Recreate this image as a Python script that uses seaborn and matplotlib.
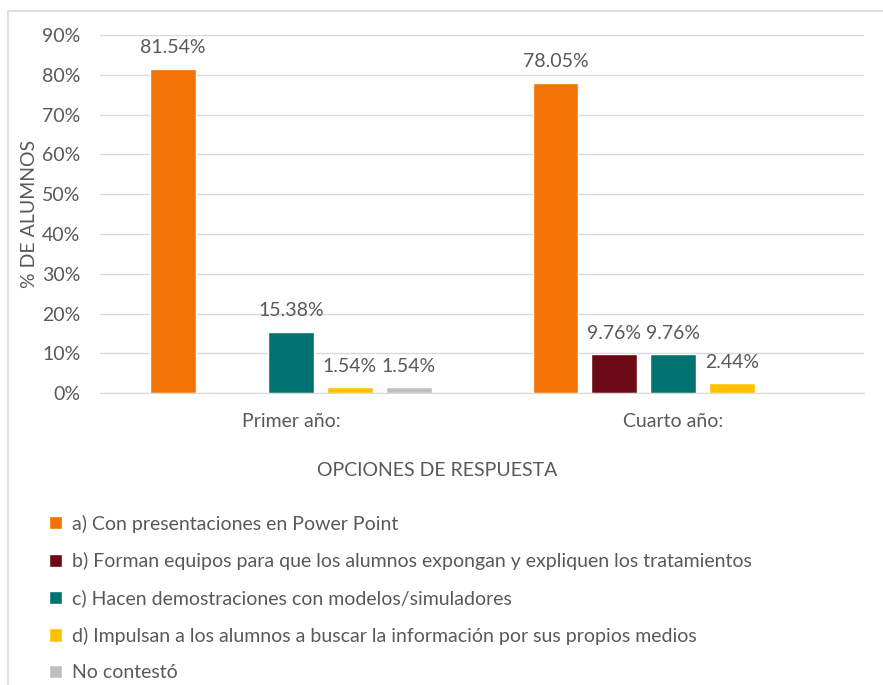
import pandas as pd
import seaborn as sns
import matplotlib.pyplot as plt
from matplotlib.patches import Rectangle
from matplotlib.ticker import FuncFormatter

# data
groups = ['Primer año:', 'Cuarto año:']
options = [
    'a) Con presentaciones en Power Point',
    'b) Forman equipos para que los alumnos expongan y expliquen los tratamientos',
    'c) Hacen demostraciones con modelos/simuladores',
    'd) Impulsan a los alumnos a buscar la información por sus propios medios',
    'No contestó',
]
opt_a = [81.54, 78.05]
opt_b = [0.0, 9.76]
opt_c = [15.38, 9.76]
opt_d = [1.54, 2.44]
no_answer = [1.54, 0.0]
colors = ['#F47306', '#6B0A14', '#007370', '#FFC000', '#BFBFBF']

TEXT = '#595959'
GRID = '#D9D9D9'
FS = 14


def main():
    series = [opt_a, opt_b, opt_c, opt_d, no_answer]
    rows = []
    for opt, vals in zip(options, series):
        for g, v in zip(groups, vals):
            rows.append({'Grupo': g, 'Opcion': opt, 'Pct': v})
    df = pd.DataFrame(rows)

    sns.set_style('white')
    plt.rcParams['font.family'] = ['Lato', 'DejaVu Sans']

    fig = plt.figure(figsize=(8.83, 6.85), dpi=100)
    ax = fig.add_axes([0.113, 0.426, 0.866, 0.523])

    sns.barplot(data=df, x='Grupo', y='Pct', hue='Opcion', hue_order=options,
                order=groups, palette=colors, dodge=True, gap=0.22,
                width=0.77, saturation=1, ax=ax, legend=True)

    for cont in ax.containers:
        labels = [f'{b.get_height():.2f}%' if b.get_height() > 0 else ''
                  for b in cont]
        ax.bar_label(cont, labels=labels, padding=9, fontsize=FS, color=TEXT)

    ax.set_ylim(0, 90)
    ax.set_xlim(-0.5, 1.5)
    ax.set_yticks(range(0, 91, 10))
    ax.yaxis.set_major_formatter(FuncFormatter(lambda v, p: f'{v:.0f}%'))
    ax.grid(axis='y', color=GRID, linewidth=1)
    ax.set_axisbelow(True)
    for s in ['top', 'right', 'left']:
        ax.spines[s].set_visible(False)
    ax.spines['bottom'].set_color(GRID)
    ax.tick_params(axis='both', length=0, labelsize=FS, colors=TEXT)
    ax.tick_params(axis='x', pad=14)
    ax.tick_params(axis='y', pad=14)

    ax.set_xlabel('')
    fig.text(0.495, 1 - 470 / 685, 'OPCIONES DE RESPUESTA', fontsize=FS,
             color=TEXT, ha='center', va='center')
    ax.set_ylabel('% DE ALUMNOS', fontsize=FS, color=TEXT, labelpad=3)

    handles, labels = ax.get_legend_handles_labels()
    ax.get_legend().remove()
    fig.legend(handles, labels, loc='upper left',
               bbox_to_anchor=(0.047, 0.2603), frameon=False,
               fontsize=FS, labelcolor=TEXT, handlelength=0.67,
               handleheight=0.67, handletextpad=0.5, labelspacing=1.0,
               borderaxespad=0)

    fig.patches.append(Rectangle((0.0085, -0.02), 1.1, 1 - 11 / 685 + 0.02,
                                 transform=fig.transFigure, fill=False,
                                 edgecolor=GRID, linewidth=1.2))

    plt.savefig('out.png', dpi=100)
    plt.close()


if __name__ == "__main__":
    main()
